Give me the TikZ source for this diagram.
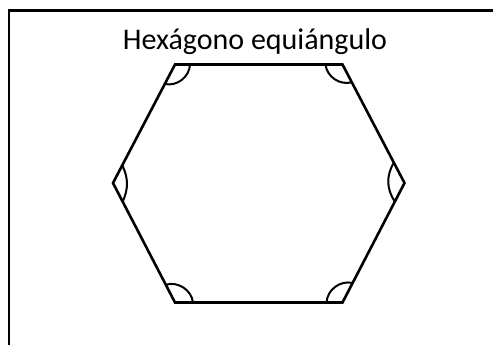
\documentclass[tikz,border=0pt]{standalone}
\usepackage{fontspec}
\setmainfont{Carlito}
\usetikzlibrary{calc}
\begin{document}
\begin{tikzpicture}[x=1pt,y=1pt,
  frameline/.style={line width=2.4pt,black},
  hexline/.style={line width=2.6pt,black,line join=miter},
  anglearc/.style={line width=2pt,black},
  titletext/.style={font=\fontsize{30}{35}\selectfont,anchor=base,inner sep=0pt}]
\useasboundingbox (0,0) rectangle (493,345);
% frame (top and left edges)
\coordinate (fl) at (9,0);
\coordinate (ftl) at (9,334.5);
\coordinate (ftr) at (493,334.5);
\draw[frameline] (fl) -- (ftl) -- (ftr);
% title
\node[titletext] (title) at (255,295) {Hexágono equiángulo};
% hexagon vertices
\coordinate (A) at (175,280.5);
\coordinate (B) at (342.5,280.5);
\coordinate (C) at (404.5,162);
\coordinate (D) at (342.5,42.5);
\coordinate (E) at (175,42.5);
\coordinate (F) at (113,162);
\draw[hexline] (A) -- (B) -- (C) -- (D) -- (E) -- (F) -- cycle;
% angle marks
\coordinate (a1) at ($(A)!22pt!(F)$); \coordinate (a2) at ($(A)!15pt!(B)$);
\coordinate (b1) at ($(B)!17pt!(A)$); \coordinate (b2) at ($(B)!20pt!(C)$);
\coordinate (c1) at ($(C)!23pt!(B)$); \coordinate (c2) at ($(C)!21pt!(D)$);
\coordinate (d1) at ($(D)!22pt!(C)$); \coordinate (d2) at ($(D)!16pt!(E)$);
\coordinate (e1) at ($(E)!18pt!(D)$); \coordinate (e2) at ($(E)!20pt!(F)$);
\coordinate (f1) at ($(F)!21pt!(E)$); \coordinate (f2) at ($(F)!20pt!(A)$);
\draw[anglearc] (a1) to[bend right=50] (a2);
\draw[anglearc] (b1) to[bend right=50] (b2);
\draw[anglearc] (c1) to[bend right=32] (c2);
\draw[anglearc] (d1) to[bend right=50] (d2);
\draw[anglearc] (e1) to[bend right=50] (e2);
\draw[anglearc] (f1) to[bend right=25] (f2);
\end{tikzpicture}
\end{document}
